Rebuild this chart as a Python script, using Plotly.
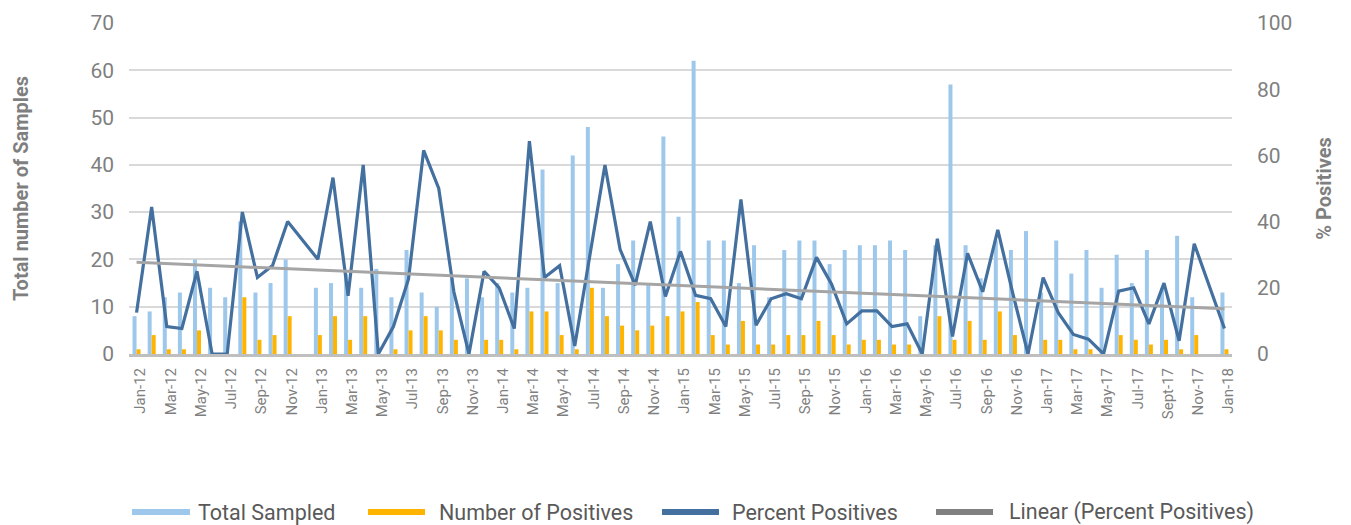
import plotly.graph_objects as go
from plotly.subplots import make_subplots

months = [
    "Jan-12", "Feb-12", "Mar-12", "Apr-12", "May-12", "Jun-12", "Jul-12", "Aug-12", "Sep-12", "Oct-12", "Nov-12", "Dec-12",
    "Jan-13", "Feb-13", "Mar-13", "Apr-13", "May-13", "Jun-13", "Jul-13", "Aug-13", "Sep-13", "Oct-13", "Nov-13", "Dec-13",
    "Jan-14", "Feb-14", "Mar-14", "Apr-14", "May-14", "Jun-14", "Jul-14", "Aug-14", "Sep-14", "Oct-14", "Nov-14", "Dec-14",
    "Jan-15", "Feb-15", "Mar-15", "Apr-15", "May-15", "Jun-15", "Jul-15", "Aug-15", "Sep-15", "Oct-15", "Nov-15", "Dec-15",
    "Jan-16", "Feb-16", "Mar-16", "Apr-16", "May-16", "Jun-16", "Jul-16", "Aug-16", "Sep-16", "Oct-16", "Nov-16", "Dec-16",
    "Jan-17", "Feb-17", "Mar-17", "Apr-17", "May-17", "Jun-17", "Jul-17", "Aug-17", "Sept-17", "Oct-17", "Nov-17", "Dec-17",
    "Jan-18",
]

total_sampled = [
    8, 9, 12, 13, 20, 14, 12, 28, 13, 15, 20, None,
    14, 15, 17, 14, 18, 12, 22, 13, 10, 16, 16, 12,
    15, 13, 14, 39, 15, 42, 48, 14, 19, 24, 15, 46,
    29, 62, 24, 24, 15, 23, 12, 22, 24, 24, 19, 22,
    23, 23, 24, 22, 8, 23, 57, 23, 16, 24, 22, 26,
    13, 24, 17, 22, 14, 21, 15, 22, 14, 25, 12, None,
    13,
]

positives = [
    1, 4, 1, 1, 5, 0, 0, 12, 3, 4, 8, None,
    4, 8, 3, 8, 0, 1, 5, 8, 5, 3, 0, 3,
    3, 1, 9, 9, 4, 1, 14, 8, 6, 5, 6, 8,
    9, 11, 4, 2, 7, 2, 2, 4, 4, 7, 4, 2,
    3, 3, 2, 2, 0, 8, 3, 7, 3, 9, 4, 0,
    3, 3, 1, 1, 0, 4, 3, 2, 3, 1, 4, None,
    1,
]

percent_positives = [
    12.5, 44.4, 8.3, 7.7, 25.0, 0, 0, 42.9, 23.1, 26.7, 40.0, None,
    28.6, 53.3, 17.6, 57.1, 0, 8.3, 22.7, 61.5, 50.0, 18.8, 0, 25.0,
    20.0, 7.7, 64.3, 23.1, 26.7, 2.4, 29.2, 57.1, 31.6, 20.8, 40.0, 17.4,
    31.0, 17.7, 16.7, 8.3, 46.7, 8.7, 16.7, 18.2, 16.7, 29.2, 21.1, 9.1,
    13.0, 13.0, 8.3, 9.1, 0, 34.8, 5.3, 30.4, 18.8, 37.5, 18.2, 0,
    23.1, 12.5, 5.9, 4.5, 0, 19.0, 20.0, 9.1, 21.4, 4.0, 33.3, None,
    7.7,
]

trend_months = ["Jan-12", "Jan-18"]
trend_values = [27.7, 13.7]

left_ticks = [0, 10, 20, 30, 40, 50, 60, 70]
right_ticks = [0, 20, 40, 60, 80, 100]
x_tick_labels = months[::2]

legend_names = ["Total Sampled", "Number of Positives", "Percent Positives", "Linear (Percent Positives)"]
legend_colors = ["#9DC8EC", "#FFB400", "#44709F", "#808080"]

C_BLUE_BAR = "#9DC8EC"
C_ORANGE = "#FFB400"
C_LINE = "#44709F"
C_TREND = "#A5A5A5"
C_TEXT = "#7F7F7F"

fig = make_subplots(specs=[[{"secondary_y": True}]])

fig.add_trace(go.Bar(x=months, y=total_sampled, name=legend_names[0],
                     marker=dict(color=C_BLUE_BAR, line=dict(width=0))), secondary_y=False)
fig.add_trace(go.Bar(x=months, y=positives, name=legend_names[1],
                     marker=dict(color=C_ORANGE, line=dict(width=0))), secondary_y=False)
fig.add_trace(go.Scatter(x=months, y=percent_positives, mode="lines", name=legend_names[2],
                         connectgaps=True, line=dict(color=C_LINE, width=3.2)), secondary_y=True)
fig.add_trace(go.Scatter(x=trend_months, y=trend_values, mode="lines", name=legend_names[3],
                         line=dict(color=C_TREND, width=3)), secondary_y=True)

W, H = 1351, 525
L, R, T, B = 129, 1232, 23, 354


def px_x(x):
    return (x - L) / (R - L)


def px_y(y):
    return (B - y) / (B - T)


fig.update_layout(
    width=W, height=H,
    margin=dict(l=L, r=W - R, t=T, b=H - B, autoexpand=False),
    plot_bgcolor="white", paper_bgcolor="white",
    barmode="group", bargap=0.47, bargroupgap=0,
    showlegend=False,
    font=dict(family="Roboto", color=C_TEXT),
)

fig.update_xaxes(
    domain=[0, 1],
    type="category", categoryorder="array", categoryarray=months,
    tickmode="array", tickvals=x_tick_labels, ticktext=x_tick_labels,
    tickangle=-90, tickfont=dict(size=15, color=C_TEXT),
    showgrid=False, showline=True, linecolor="#BFBFBF", linewidth=3,
    ticks="", ticklabelstandoff=5, ticklabelshift=4,
)

fig.update_yaxes(
    range=[0, 70], tickmode="array", tickvals=left_ticks,
    tickfont=dict(size=21, color=C_TEXT), showgrid=True, gridcolor="#D9D9D9", gridwidth=1.5,
    zeroline=False, showline=False, ticks="", ticklabelstandoff=14,
    title=dict(text="Total number of Samples", standoff=56,
               font=dict(size=20, color=C_TEXT, weight="bold")),
    secondary_y=False,
)

fig.update_yaxes(
    range=[0, 100], tickmode="array", tickvals=right_ticks,
    tickfont=dict(size=21, color=C_TEXT), showgrid=False,
    zeroline=False, showline=False, ticks="", ticklabelstandoff=24,
    title=dict(text="% Positives", standoff=25,
               font=dict(size=20, color=C_TEXT, weight="bold")),
    secondary_y=True,
)

# legend drawn at the bottom, like the original
swatches = [(132, 190), (368, 425), (662, 719), (936, 993)]
text_x = [196, 437, 730, 1007]
leg_y = 512
for (x0, x1), tx, name, col in zip(swatches, text_x, legend_names, legend_colors):
    fig.add_shape(type="line", xref="paper", yref="paper",
                  x0=px_x(x0), x1=px_x(x1), y0=px_y(leg_y), y1=px_y(leg_y),
                  line=dict(color=col, width=6))
    fig.add_annotation(xref="paper", yref="paper", x=px_x(tx), y=px_y(leg_y),
                       xanchor="left", yanchor="middle", showarrow=False,
                       text=name, font=dict(size=21.5, color="#595959"))

fig.write_html("out.html", config={"displayModeBar": False},
               post_script="document.body.style.margin='0px';")
